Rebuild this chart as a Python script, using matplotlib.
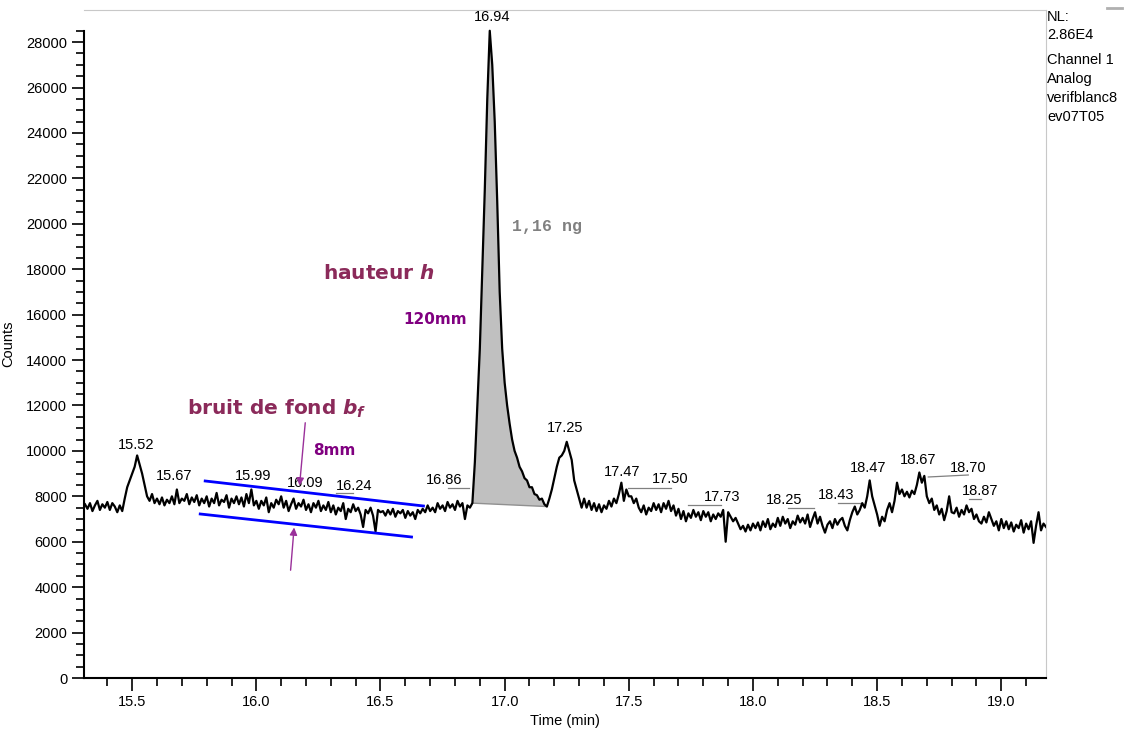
import numpy as np
import matplotlib
matplotlib.use("Agg")
import matplotlib.pyplot as plt
from matplotlib.ticker import MultipleLocator

# =========================
# DATA (one row = 0.1 min, step 0.01 min)
# =========================

t_start = 15.31
t_step = 0.01

counts = [
    7650, 7450, 7700, 7350, 7600, 7800, 7400, 7650, 7500, 7750,   # 15.31
    7400, 7700, 7550, 7300, 7600, 7350, 7900, 8400, 8700, 9000,   # 15.41
    9300, 9800, 9400, 9000, 8500, 8000, 7800, 8100, 7700, 7900,   # 15.51
    7650, 7950, 7600, 7850, 7700, 8000, 7650, 8300, 7700, 7900,   # 15.61
    7800, 8100, 7650, 7950, 7750, 8050, 7600, 7900, 7700, 8000,   # 15.71
    7550, 7900, 7700, 8150, 7600, 7850, 7750, 8050, 7500, 7900,   # 15.81
    7700, 8000, 7650, 7950, 7550, 8100, 7700, 8300, 7600, 7800,   # 15.91
    7450, 7800, 7600, 7950, 7300, 7700, 7500, 7850, 7650, 8000,   # 16.01
    7500, 7800, 7350, 7650, 7900, 7450, 7700, 7550, 7850, 7400,   # 16.11
    7650, 7300, 7700, 7500, 7800, 7350, 7600, 7400, 7750, 7300,   # 16.21
    7600, 7200, 7500, 7350, 7700, 7000, 7450, 7300, 7650, 7350,   # 16.31
    7500, 7200, 6650, 7400, 7250, 7500, 7150, 6450, 7400, 7300,   # 16.41
    7350, 7150, 7400, 7200, 7450, 7100, 7350, 7250, 7400, 7050,   # 16.51
    7350, 7150, 7300, 7000, 7400, 7250, 7450, 7300, 7600, 7350,   # 16.61
    7500, 7300, 7700, 7450, 7600, 7350, 7750, 7500, 7650, 7400,   # 16.71
    7800, 7550, 7700, 7000, 7600, 7500, 7700, 9500, 12000, 14500, # 16.81
    18000, 21500, 25500, 28500, 27000, 24500, 21000, 17000, 14500, 13000,  # 16.91
    12000, 11200, 10500, 10000, 9700, 9300, 9100, 8800, 8700, 8400,  # 17.01
    8400, 8100, 8050, 7850, 7900, 7650, 7550, 7900, 8300, 8800,   # 17.11
    9300, 9700, 9800, 10000, 10400, 10000, 9600, 8700, 8300, 7900,  # 17.21
    7500, 7900, 7500, 7800, 7400, 7700, 7350, 7650, 7300, 7600,   # 17.31
    7450, 7800, 7550, 7900, 7700, 8100, 8600, 7800, 8300, 8000,   # 17.41
    8000, 7700, 7900, 7500, 7300, 7600, 7200, 7500, 7350, 7700,   # 17.51
    7400, 7650, 7300, 7700, 7450, 7800, 7350, 7600, 7150, 7450,   # 17.61
    7000, 7350, 6900, 7250, 7050, 7400, 7100, 7300, 6950, 7350,   # 17.71
    7100, 7300, 6900, 7200, 7000, 7250, 7100, 7400, 6000, 7300,   # 17.81
    7100, 6900, 7050, 6800, 6550, 6700, 6450, 6750, 6500, 6800,   # 17.91
    6600, 6850, 6500, 6900, 6650, 7000, 6550, 6800, 6650, 7050,   # 18.01
    6700, 7100, 6800, 7000, 6600, 6900, 6750, 7150, 6850, 7050,   # 18.11
    6800, 7200, 6650, 7000, 7300, 6800, 7100, 6700, 6400, 6750,   # 18.21
    6900, 6600, 7000, 6750, 6950, 7050, 6700, 6500, 6950, 7300,   # 18.31
    7550, 7200, 7400, 7700, 7500, 8000, 8700, 8000, 7600, 7200,   # 18.41
    6700, 7100, 6900, 7400, 7700, 7300, 7800, 8600, 8100, 8300,   # 18.51
    8000, 8200, 7950, 8250, 8100, 8500, 9050, 8600, 8900, 8000,   # 18.61
    7700, 7900, 7400, 7600, 7200, 7450, 6950, 7350, 8000, 7300,   # 18.71
    7250, 7500, 7100, 7400, 7200, 7600, 7300, 7450, 7000, 7200,   # 18.81
    6900, 6800, 7100, 6850, 7300, 7000, 6700, 6900, 6500, 7000,   # 18.91
    6600, 6900, 6550, 6850, 6450, 6750, 6600, 6950, 6400, 6800,   # 19.01
    6550, 6900, 5950, 6700, 7300, 6500, 6800, 6650,               # 19.11
]

# integrated peak (start / end of the shaded area)
peak_start = 16.87
peak_end = 17.17

# retention-time labels
peak_labels = ["15.52", "15.67", "15.99", "16.09", "16.24", "16.86", "16.94",
               "17.25", "17.47", "17.50", "17.73", "18.25", "18.43", "18.47",
               "18.67", "18.70", "18.87"]
label_t = [15.516, 15.669, 15.988, 16.198, 16.395, 16.758, 16.948,
           17.242, 17.472, 17.665, 17.875, 18.125, 18.335, 18.464,
           18.665, 18.867, 18.915]
label_c = [10260, 8895, 8895, 8587, 8454, 8719, 29106,
           11008, 9071, 8763, 7970, 7838, 8058, 9247,
           9599, 9247, 8234]

# small grey leader lines under some labels
leaders = [
    ([16.319, 16.391], [8146, 8146]),
    ([16.770, 16.855], [8366, 8366]),
    ([17.496, 17.669], [8366, 8366]),
    ([17.738, 17.871], [7618, 7618]),
    ([18.141, 18.246], [7486, 7486]),
    ([18.343, 18.435], [7706, 7706]),
    ([18.706, 18.867], [8851, 8939]),
    ([18.871, 18.919], [7882, 7882]),
]

# noise envelope (blue lines)
noise_top_t = [15.794, 16.673]
noise_top_c = [8675, 7574]
noise_bot_t = [15.774, 16.625]
noise_bot_c = [7222, 6209]

side_info = ["NL:", "2.86E4", "Channel 1", "Analog", "verifblanc8", "ev07T05"]

# =========================
# Plot
# =========================

plt.rcParams["font.family"] = ["Liberation Sans", "DejaVu Sans"]
plt.rcParams["mathtext.fontset"] = "custom"
plt.rcParams["mathtext.rm"] = "DejaVu Sans:bold"
plt.rcParams["mathtext.it"] = "DejaVu Sans:bold:italic"

counts = np.array(counts, dtype=float)
time = np.round(t_start + t_step * np.arange(len(counts)), 2)

W, H = 1135, 731
fig = plt.figure(figsize=(W / 100, H / 100), dpi=100)
ax = fig.add_axes([84 / W, (H - 678) / H, (1046 - 84) / W, (678 - 10) / H])

ax.set_xlim(15.306, 19.18)
ax.set_ylim(0, 29414)

# shaded peak
sel = (time >= peak_start - 0.001) & (time <= peak_end + 0.001)
ax.fill(time[sel], counts[sel], facecolor="#c0c0c0", edgecolor="none", zorder=1)
ax.plot([time[sel][0], time[sel][-1]], [counts[sel][0], counts[sel][-1]],
        color="#909090", lw=1.0, zorder=2)

ax.plot(time, counts, color="black", lw=1.6, zorder=3)

# retention time labels
for lab, tx, cy in zip(peak_labels, label_t, label_c):
    ax.text(tx, cy, lab, ha="center", va="center", fontsize=10.5, zorder=4)
for lx, ly in leaders:
    ax.plot(lx, ly, color="#808080", lw=0.9, zorder=2)

# noise band + arrows
ax.plot(noise_top_t, noise_top_c, color="#0000ff", lw=2, zorder=5)
ax.plot(noise_bot_t, noise_bot_c, color="#0000ff", lw=2, zorder=5)
ax.annotate("", xy=(16.173, 8350), xytext=(16.198, 11361),
            arrowprops=dict(arrowstyle="-|>", color="#9a309a", lw=1,
                            mutation_scale=11), zorder=6)
ax.annotate("", xy=(16.153, 6750), xytext=(16.137, 4624),
            arrowprops=dict(arrowstyle="-|>", color="#9a309a", lw=1,
                            mutation_scale=11), zorder=6)

# annotations
ax.text(15.72, 11850, "bruit de fond $b_f$", fontsize=14.5, fontweight="bold",
        family="DejaVu Sans", color="#8b2a5a", va="center")
ax.text(16.23, 10000, "8mm", fontsize=11, fontweight="bold",
        family="DejaVu Sans", color="#800080", va="center")
ax.text(16.27, 17800, "hauteur $h$", fontsize=14.5, fontweight="bold",
        family="DejaVu Sans", color="#8b2a5a", va="center")
ax.text(16.59, 15800, "120mm", fontsize=11, fontweight="bold",
        family="DejaVu Sans", color="#800080", va="center")
ax.text(17.03, 19900, "1,16 ng", fontsize=12, fontweight="bold",
        family="Liberation Mono", color="#808080", va="center")

# axes styling
for side in ["top", "right"]:
    ax.spines[side].set_color("#c8c8c8")
ax.spines["left"].set_bounds(0, 28500)
ax.spines["left"].set_linewidth(1.5)
ax.spines["bottom"].set_linewidth(1.5)

ax.xaxis.set_major_locator(MultipleLocator(0.5))
ax.xaxis.set_minor_locator(MultipleLocator(0.1))
ax.set_yticks(np.arange(0, 28001, 2000))
ax.set_yticks(np.arange(0, 28501, 500), minor=True)
ax.xaxis.set_major_formatter(plt.FormatStrFormatter("%.1f"))

ax.tick_params(which="major", length=9, width=1.2, labelsize=10.5, pad=3)
ax.tick_params(which="minor", length=6, width=1.2)

ax.set_xlabel("Time (min)", fontsize=10.5, labelpad=4)
ax.set_ylabel("Counts", fontsize=10.5, labelpad=8)

# instrument info on the right
for i, line in enumerate(side_info):
    yy = [17, 35, 60, 79, 98, 117][i]
    fig.text(1047 / W, 1 - yy / H, line, fontsize=10.5, va="center", ha="left")

# small grey mark at the top right corner
fig.add_artist(plt.Line2D([1107 / W, 1122 / W], [1 - 8 / H, 1 - 8 / H],
                          color="#b0b0b0", lw=2))

plt.savefig("out.png", dpi=100)
